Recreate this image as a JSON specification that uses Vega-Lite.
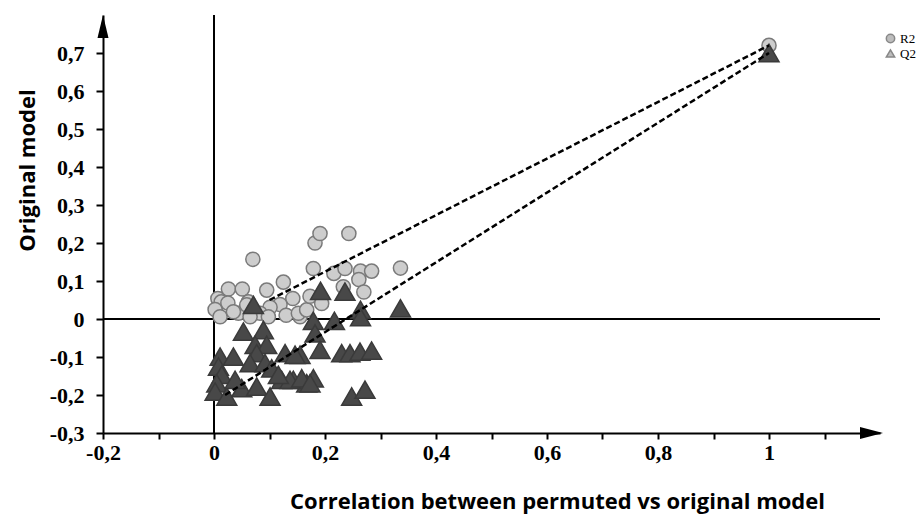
{
  "$schema": "https://vega.github.io/schema/vega-lite/v6.json",
  "width": 777,
  "height": 418,
  "autosize": {"type": "none"},
  "padding": {"left": 103, "top": 15, "right": 40, "bottom": 83},
  "background": "white",
  "config": {
    "view": {"stroke": null},
    "axis": {"grid": false}
  },
  "datasets": {
    "pts": [
      {"series": "R2", "x": 0.007, "y": 0.054},
      {"series": "R2", "x": 0.026, "y": 0.079},
      {"series": "R2", "x": 0.013, "y": 0.045},
      {"series": "R2", "x": 0.051, "y": 0.079},
      {"series": "R2", "x": 0.002, "y": 0.025},
      {"series": "R2", "x": 0.011, "y": 0.006},
      {"series": "R2", "x": 0.044, "y": 0.015},
      {"series": "R2", "x": 0.062, "y": 0.045},
      {"series": "R2", "x": 0.095, "y": 0.076},
      {"series": "R2", "x": 0.125, "y": 0.097},
      {"series": "R2", "x": 0.142, "y": 0.054},
      {"series": "R2", "x": 0.119, "y": 0.038},
      {"series": "R2", "x": 0.101, "y": 0.031},
      {"series": "R2", "x": 0.130, "y": 0.010},
      {"series": "R2", "x": 0.155, "y": 0.006},
      {"series": "R2", "x": 0.083, "y": 0.015},
      {"series": "R2", "x": 0.025, "y": 0.042},
      {"series": "R2", "x": 0.035, "y": 0.019},
      {"series": "R2", "x": 0.059, "y": 0.037},
      {"series": "R2", "x": 0.065, "y": 0.006},
      {"series": "R2", "x": 0.098, "y": 0.006},
      {"series": "R2", "x": 0.152, "y": 0.015},
      {"series": "R2", "x": 0.167, "y": 0.024},
      {"series": "R2", "x": 0.070, "y": 0.157},
      {"series": "R2", "x": 0.182, "y": 0.200},
      {"series": "R2", "x": 0.191, "y": 0.225},
      {"series": "R2", "x": 0.243, "y": 0.225},
      {"series": "R2", "x": 0.179, "y": 0.133},
      {"series": "R2", "x": 0.216, "y": 0.120},
      {"series": "R2", "x": 0.236, "y": 0.133},
      {"series": "R2", "x": 0.264, "y": 0.126},
      {"series": "R2", "x": 0.284, "y": 0.126},
      {"series": "R2", "x": 0.336, "y": 0.134},
      {"series": "R2", "x": 0.261, "y": 0.104},
      {"series": "R2", "x": 0.233, "y": 0.085},
      {"series": "R2", "x": 0.270, "y": 0.071},
      {"series": "R2", "x": 0.173, "y": 0.060},
      {"series": "R2", "x": 0.194, "y": 0.041},
      {"series": "R2", "x": 1.0, "y": 0.72},
      {"series": "Q2", "x": 0.071, "y": 0.037},
      {"series": "Q2", "x": 0.192, "y": 0.074},
      {"series": "Q2", "x": 0.236, "y": 0.072},
      {"series": "Q2", "x": 0.264, "y": 0.024},
      {"series": "Q2", "x": 0.264, "y": 0.005},
      {"series": "Q2", "x": 0.336, "y": 0.028},
      {"series": "Q2", "x": 0.179, "y": -0.005},
      {"series": "Q2", "x": 0.217, "y": -0.005},
      {"series": "Q2", "x": 0.182, "y": -0.038},
      {"series": "Q2", "x": 0.191, "y": -0.081},
      {"series": "Q2", "x": 0.230, "y": -0.090},
      {"series": "Q2", "x": 0.245, "y": -0.090},
      {"series": "Q2", "x": 0.263, "y": -0.086},
      {"series": "Q2", "x": 0.284, "y": -0.083},
      {"series": "Q2", "x": 0.155, "y": -0.094},
      {"series": "Q2", "x": 0.143, "y": -0.160},
      {"series": "Q2", "x": 0.167, "y": -0.169},
      {"series": "Q2", "x": 0.179, "y": -0.156},
      {"series": "Q2", "x": 0.248, "y": -0.204},
      {"series": "Q2", "x": 0.272, "y": -0.186},
      {"series": "Q2", "x": 0.053, "y": -0.033},
      {"series": "Q2", "x": 0.089, "y": -0.029},
      {"series": "Q2", "x": 0.074, "y": -0.068},
      {"series": "Q2", "x": 0.095, "y": -0.068},
      {"series": "Q2", "x": 0.011, "y": -0.099},
      {"series": "Q2", "x": 0.035, "y": -0.099},
      {"series": "Q2", "x": 0.077, "y": -0.090},
      {"series": "Q2", "x": 0.065, "y": -0.116},
      {"series": "Q2", "x": 0.092, "y": -0.116},
      {"series": "Q2", "x": 0.128, "y": -0.090},
      {"series": "Q2", "x": 0.146, "y": -0.094},
      {"series": "Q2", "x": 0.008, "y": -0.125},
      {"series": "Q2", "x": 0.014, "y": -0.147},
      {"series": "Q2", "x": 0.005, "y": -0.169},
      {"series": "Q2", "x": 0.002, "y": -0.191},
      {"series": "Q2", "x": 0.023, "y": -0.204},
      {"series": "Q2", "x": 0.050, "y": -0.182},
      {"series": "Q2", "x": 0.077, "y": -0.178},
      {"series": "Q2", "x": 0.101, "y": -0.204},
      {"series": "Q2", "x": 0.104, "y": -0.130},
      {"series": "Q2", "x": 0.122, "y": -0.160},
      {"series": "Q2", "x": 0.137, "y": -0.160},
      {"series": "Q2", "x": 0.158, "y": -0.156},
      {"series": "Q2", "x": 0.173, "y": -0.169},
      {"series": "Q2", "x": 0.038, "y": -0.160},
      {"series": "Q2", "x": 0.116, "y": -0.147},
      {"series": "Q2", "x": 1.0, "y": 0.70}
    ],
    "fits": [
      {"series": "R2", "x": 0.1, "y": 0.05},
      {"series": "R2", "x": 1.0, "y": 0.72},
      {"series": "Q2", "x": 0.02, "y": -0.2},
      {"series": "Q2", "x": 1.0, "y": 0.70}
    ],
    "zero": [
      {"x": 0, "x2": 0, "y": -0.3, "y2": 0.8},
      {"x": -0.2, "x2": 1.2, "y": 0, "y2": 0}
    ],
    "arrows": [
      {"dir": "up", "x": -0.2, "y": 0.8},
      {"dir": "right", "x": 1.2, "y": -0.3}
    ]
  },
  "layer": [
    {
      "data": {"name": "zero"},
      "mark": {"type": "rule", "color": "black", "strokeWidth": 2},
      "encoding": {
        "x": {"field": "x", "type": "quantitative", "scale": {"domain": [-0.2, 1.2], "nice": false, "zero": false},
          "axis": {
            "values": [-0.2, -0.1, 0, 0.1, 0.2, 0.3, 0.4, 0.5, 0.6, 0.7, 0.8, 0.9, 1.0, 1.1],
            "domainColor": "black", "domainWidth": 2,
            "tickColor": "black", "tickWidth": 2, "tickSize": 6,
            "labelExpr": "round(datum.value*100) % 20 == 0 ? (datum.value == 0 ? '0' : (datum.value == 1 ? '1' : replace(replace(format(datum.value, '.1f'), '.', ','), '\u2212', '-'))) : ''",
            "labelFont": "Liberation Serif", "labelFontWeight": "bold", "labelFontSize": 22, "labelColor": "black", "labelPadding": 3,
            "labelFlush": false, "labelOverlap": false,
            "title": "Correlation between permuted vs original model",
            "titleFont": "Open Sans", "titleFontWeight": "bold", "titleFontSize": 22, "titleColor": "black",
            "titleAnchor": "start", "titleAlign": "center", "titleBaseline": "middle", "titleX": 454, "titleY": 68
          }
        },
        "x2": {"field": "x2"},
        "y": {"field": "y", "type": "quantitative", "scale": {"domain": [-0.3, 0.8], "nice": false, "zero": false},
          "axis": {
            "values": [-0.3, -0.25, -0.2, -0.15, -0.1, -0.05, 0, 0.05, 0.1, 0.15, 0.2, 0.25, 0.3, 0.35, 0.4, 0.45, 0.5, 0.55, 0.6, 0.65, 0.7, 0.75],
            "domainColor": "black", "domainWidth": 2,
            "tickColor": "black", "tickWidth": 2,
            "tickSize": {"condition": {"test": "round(datum.value*100) % 10 == 0", "value": 7}, "value": 4},
            "labelExpr": "round(datum.value*100) % 10 == 0 ? (datum.value == 0 ? '0' : replace(replace(format(datum.value, '.1f'), '.', ','), '\u2212', '-')) : ''",
            "labelFont": "Liberation Serif", "labelFontWeight": "bold", "labelFontSize": 22, "labelColor": "black", "labelPadding": 12,
            "labelFlush": false, "labelOverlap": false,
            "title": "Original model",
            "titleFont": "Open Sans", "titleFontWeight": "bold", "titleFontSize": 22, "titleColor": "black",
            "titleAngle": -90, "titleAnchor": "start", "titleAlign": "center", "titleBaseline": "middle", "titleX": -76, "titleY": 155
          }
        },
        "y2": {"field": "y2"}
      }
    },
    {
      "data": {"name": "pts"},
      "mark": {"type": "point", "filled": true, "strokeWidth": 1.5, "opacity": 1},
      "encoding": {
        "x": {"field": "x", "type": "quantitative"},
        "y": {"field": "y", "type": "quantitative"},
        "shape": {"field": "series", "type": "nominal",
          "scale": {"domain": ["R2", "Q2"], "range": ["circle", "triangle-up"]},
          "legend": {
            "title": null, "orient": "none", "legendX": 781, "legendY": 17,
            "labelFont": "Liberation Serif", "labelFontSize": 13, "labelColor": "black",
            "symbolSize": 70, "rowPadding": 0, "labelOffset": 3,
            "symbolFillColor": "#bdbdbd"
          }
        },
        "fill": {"field": "series", "type": "nominal",
          "scale": {"domain": ["R2", "Q2"], "range": ["#cdcdcd", "#484848"]}, "legend": null},
        "stroke": {"field": "series", "type": "nominal",
          "scale": {"domain": ["R2", "Q2"], "range": ["#7a7a7a", "#3a3a3a"]}, "legend": null},
        "size": {"field": "series", "type": "nominal",
          "scale": {"domain": ["R2", "Q2"], "range": [200, 400]}, "legend": null},
        "order": {"field": "series", "sort": "descending"}
      }
    },
    {
      "data": {"name": "fits"},
      "mark": {"type": "line", "color": "black", "strokeWidth": 2.5, "strokeDash": [6, 3]},
      "encoding": {
        "x": {"field": "x", "type": "quantitative"},
        "y": {"field": "y", "type": "quantitative"},
        "detail": {"field": "series"}
      }
    },
    {
      "data": {"name": "arrows"},
      "mark": {"type": "point", "filled": true, "color": "black", "opacity": 1, "size": 400},
      "encoding": {
        "x": {"field": "x", "type": "quantitative"},
        "y": {"field": "y", "type": "quantitative"},
        "shape": {"field": "dir", "type": "nominal",
          "scale": {"domain": ["up", "right"], "range": ["M0,0L0.55,2.3L-0.55,2.3Z", "M0.3,0L-2,-0.6L-2,0.6Z"]},
          "legend": null}
      }
    }
  ],
  "resolve": {"scale": {"shape": "independent"}}
}
